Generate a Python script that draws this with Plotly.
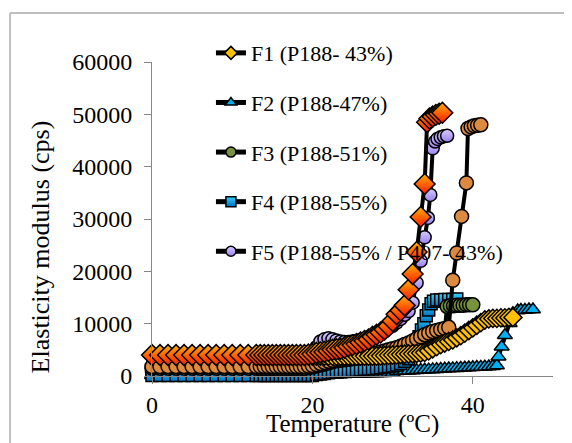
import plotly.graph_objects as go

# ---------------- data ----------------
# Red/orange gradient diamonds (not in legend)
R_x = [0,1,2,3,4,5,6,7,8,9,10,11,12,13,13.5,14,14.5,15,15.5,16,16.5,17,17.5,18,18.5,19,19.5,20,20.5,21,21.5,22,22.5,23,23.5,24,24.5,25,25.5,26,26.5,27,27.5,28,28.5,29,29.5,30,30.5,31,31.5,32,32.5,33,33.5,34,34.3,34.6,35,35.4,35.8,36.2]
R_y = [4000,4000,4000,4000,4000,4000,4000,4000,4000,4000,4000,4000,4000,4000,
       4000,4000,4000,4000,4000,4000,4000,4000,4000,4000,4000,4000,
       4100,4200,4400,4500,4600,4800,5000,5100,5200,5400,5700,5900,6100,6400,6700,7000,7500,7900,8300,8900,9500,10500,11800,12500,13500,16500,19500,23700,30400,36700,
       48500,49200,49600,49900,50100,50300]

# Lavender circles (F5)
L_x = [0,1,2,3,4,5,6,7,8,9,10,11,12,13,13.5,14,14.5,15,15.5,16,16.5,17,17.5,18,18.5,19,19.5,20,20.5,21,21.5,22,22.5,23,23.5,24,24.5,25,25.5,26,26.5,27,27.5,28,28.5,29,29.5,30,30.5,31,31.5,32,32.5,33,33.5,34,34.4,34.7,35,35.3,35.6,36,36.4,36.8]
L_y = [700,700,700,700,700,700,700,700,700,700,700,700,700,700,
       700,700,700,700,700,700,700,700,700,700,700,700,700,700,
       5500,6600,7000,7200,7000,6800,6600,6500,6500,6600,6700,6900,7100,7400,7700,8000,8400,8800,9200,9600,10200,10900,11700,12400,14000,17800,22000,26500,
       30200,34600,43500,44800,45300,45600,45800,45900]

# Orange circles (not in legend)
O_x = [0,1,2,3,4,5,6,7,8,9,10,11,12,13,13.5,14,14.5,15,15.5,16,16.5,17,17.5,18,18.5,19,19.5,20,20.5,21,21.5,22,22.5,23,23.5,24,24.5,25,25.5,26,26.5,27,27.5,28,28.5,29,29.5,30,30.5,31,31.5,32,32.5,33,33.5,34,34.5,35,35.5,36,36.5,37,37.5,38,38.6,39.2,39.4,39.8,40.2,40.6,41]
O_y = [1800,1800,1800,1800,1800,1800,1800,1800,1800,1800,1800,1800,1800,1800,
       1800,1800,1800,1800,1800,1800,1800,1800,1800,1800,1800,1800,
       1900,2000,2200,2400,2600,2800,3000,3200,3300,3400,3500,3600,3700,3800,3900,4100,4300,4400,4600,4800,5000,5200,5400,5700,6000,6300,6700,7100,7500,7900,8200,8500,8700,8900,9100,9300,
       18300,23500,30500,36900,47300,47600,47800,47900,48000]

# Blue gradient squares (F4)
S_x = [0,1,2,3,4,5,6,7,8,9,10,11,12,13,13.5,14,14.5,15,15.5,16,16.5,17,17.5,18,18.5,19,19.5,20,20.5,21,21.5,22,22.5,23,23.5,24,24.5,25,25.5,26,26.5,27,27.5,28,28.5,29,29.5,30,30.5,31,31.5,32,32.5,33,33.3,33.6,33.9,34.2,34.5,34.8,35.1,35.5,36,36.5,37,37.5,38]
S_y = [100,100,100,100,100,100,100,100,100,100,100,100,100,100,
       100,100,100,100,100,100,100,100,100,100,100,100,100,100,
       300,400,500,600,700,750,800,900,1000,1050,1100,1200,1300,1350,1400,1500,1600,1700,1800,1900,2100,2400,2800,3300,4500,
       6300,7500,8800,10000,11500,12600,13800,14300,14500,14500,14600,14600,14600,14700]

# Green circles (F3)
G_x = [0,1,2,3,4,5,6,7,8,9,10,11,12,13,13.5,14,14.5,15,15.5,16,16.5,17,17.5,18,18.5,19,19.5,20,20.5,21,21.5,22,22.5,23,23.5,24,24.5,25,25.5,26,26.5,27,27.5,28,28.5,29,29.5,30,30.5,31,31.5,32,32.5,33,33.5,34,34.5,35,35.5,36,36.5,36.8,37.2,37.6,38,38.4,38.8,39.2,39.6,40]
G_y = [1500,1500,1500,1500,1500,1500,1500,1500,1500,1500,1500,1500,1500,1500,
       1500,1500,1500,1500,1500,1500,1500,1500,1500,1500,1500,1500,
       1600,1700,1900,2100,2300,2500,2700,2900,3000,3100,3200,3300,3400,3500,3600,3800,4000,4100,4300,4500,4700,4900,5100,5400,5700,6000,6400,6800,7200,7600,7900,8200,8400,8600,8800,
       13300,13400,13400,13500,13500,13500,13600,13600,13600]

# Yellow diamonds (F1)
Y_x = [0,1,2,3,4,5,6,7,8,9,10,11,12,13,13.5,14,14.5,15,15.5,16,16.5,17,17.5,18,18.5,19,19.5,20,20.5,21,21.5,22,22.5,23,23.5,24,24.5,25,25.5,26,26.5,27,27.5,28,28.5,29,29.5,30,30.5,31,31.5,32,32.5,33,33.5,34,34.5,35,35.5,36,36.5,37,37.5,38,38.5,39,39.5,40,40.5,41,41.5,42,42.5,43,43.5,44,44.5,45]
Y_y = [3800,3800,3800,3800,3800,3800,3800,3800,3800,3800,3800,3800,3800,3800,
       3800,3800,3800,3800,3800,3800,3800,3800,3800,3800,3800,3800,3800,3800,3800,3800,3800,3800,3800,3800,3800,3800,3800,3800,3800,3800,3800,3800,3800,3800,
       3850,3900,3950,4000,4050,4100,4150,4200,4250,4300,4400,4500,4800,5200,5600,6000,6300,6600,6900,7300,7700,8200,8700,9200,9700,10200,10700,10900,11000,11000,11100,11100,11200,11200]

# Blue triangles (F2)
T_x = [0,1,2,3,4,5,6,7,8,9,10,11,12,13,13.5,14,14.5,15,15.5,16,16.5,17,17.5,18,18.5,19,19.5,20,20.5,21,21.5,22,22.5,23,23.5,24,24.5,25,25.5,26,26.5,27,27.5,28,28.5,29,29.5,30,30.5,31,31.5,32,32.5,33,33.5,34,34.5,35,35.5,36,36.5,37,37.5,38,38.5,39,39.5,40,40.5,41,41.5,42,42.5,43,43.2,43.6,44,44.6,45,45.6,46,46.5,47,47.5]
T_y = [150,150,150,150,150,150,150,150,150,150,150,150,150,150,
       150,150,150,150,150,150,150,150,150,150,150,150,150,150,
       200,220,240,260,280,300,320,340,360,380,400,420,440,460,480,500,520,540,560,580,
       900,940,980,1020,1060,1100,1140,1180,1220,1260,1300,1340,1380,1420,1460,1500,1540,1580,1620,1660,1700,1740,1780,1800,1850,
       2000,3700,5600,7800,10100,12000,12500,12600,12600,12700,12700]

legend_names = ["F1 (P188- 43%)", "F2 (P188-47%)", "F3 (P188-51%)", "F4 (P188-55%)",
                "F5 (P188-55% / P407- 43%)"]

x_ticks = [0, 20, 40]
y_ticks = [0, 10000, 20000, 30000, 40000, 50000, 60000]

FONT = "Liberation Serif"
LINE = dict(color="black", width=4)

fig = go.Figure()

def add(x, y, symbol, color, size, grad=None):
    marker = dict(symbol=symbol, size=size, color=color, line=dict(color="black", width=1.5))
    if grad:
        marker["gradient"] = dict(type="vertical", color=grad)
    fig.add_trace(go.Scatter(x=x, y=y, mode="lines+markers", line=LINE, marker=marker,
                             showlegend=False, cliponaxis=False, hoverinfo="skip"))

add(T_x, T_y, "triangle-up", "#00B0F0", 13)
add(L_x, L_y, "circle", "#D6CCFF", 13, grad="#9B80EE")
add(S_x, S_y, "square", "#33D1FF", 12, grad="#0070C0")
add(G_x, G_y, "circle", "#77933C", 14)
add(O_x, O_y, "circle", "#DC8A40", 14)
add(Y_x, Y_y, "diamond", "#FFC000", 14)
add(R_x, R_y, "diamond", "#FFB000", 16, grad="#FF1A00")

# legend-only entries
leg_styles = [
    dict(symbol="diamond", color="#FFC000", size=10),
    dict(symbol="triangle-up", color="#00B0F0", size=10),
    dict(symbol="circle", color="#77933C", size=10),
    dict(symbol="square", color="#33D1FF", size=10, gradient=dict(type="vertical", color="#0070C0")),
    dict(symbol="circle", color="#D6CCFF", size=10, gradient=dict(type="vertical", color="#9B80EE")),
]
for i, (nm, st) in enumerate(zip(legend_names, leg_styles)):
    st = dict(st)
    st["line"] = dict(color="black", width=1.5)
    fig.add_trace(go.Scatter(x=[None], y=[None], mode="lines+markers", name=nm,
                             line=dict(color="black", width=5), marker=st,
                             legendgroup="g%d" % i, showlegend=True))

axis_common = dict(showline=True, linecolor="#868686", linewidth=1, ticks="outside",
                   ticklen=7, tickcolor="#868686", showgrid=False, zeroline=False,
                   automargin=False,
                   tickfont=dict(family=FONT, size=24, color="black"))

fig.update_layout(
    width=572, height=443,
    margin=dict(l=144, r=27, t=54, b=75, autoexpand=False),
    paper_bgcolor="white", plot_bgcolor="white",
    xaxis=dict(range=[0, 50], tickvals=x_ticks, ticktext=[str(v) for v in x_ticks], **axis_common),
    yaxis=dict(range=[0, 60000], tickvals=y_ticks, ticktext=[str(v) for v in y_ticks],
               ticklabelstandoff=7, **axis_common),
    legend=dict(x=0.147, y=0.331, xanchor="left", yanchor="bottom", bgcolor="rgba(0,0,0,0)",
                font=dict(family=FONT, size=22, color="black"), tracegroupgap=18,
                traceorder="grouped"),
    annotations=[
        dict(text="Temperature (ºC)", xref="paper", yref="paper", x=0.5, y=-0.152,
             xanchor="center", yanchor="middle", showarrow=False,
             font=dict(family=FONT, size=25, color="black")),
        dict(text="Elasticity modulus (cps)", xref="paper", yref="paper", x=-0.279, y=0.41,
             xanchor="center", yanchor="middle", textangle=-90, showarrow=False,
             font=dict(family=FONT, size=26, color="black")),
    ],
    shapes=[
        dict(type="line", xref="paper", yref="paper", x0=-0.354, x1=1.2, y0=1.156, y1=1.156,
             line=dict(color="#BFBFBF", width=2)),
        dict(type="line", xref="paper", yref="paper", x0=-0.354, x1=-0.354, y0=-0.3, y1=1.156,
             line=dict(color="#BFBFBF", width=2)),
    ],
)

fig.write_html("out.html")
